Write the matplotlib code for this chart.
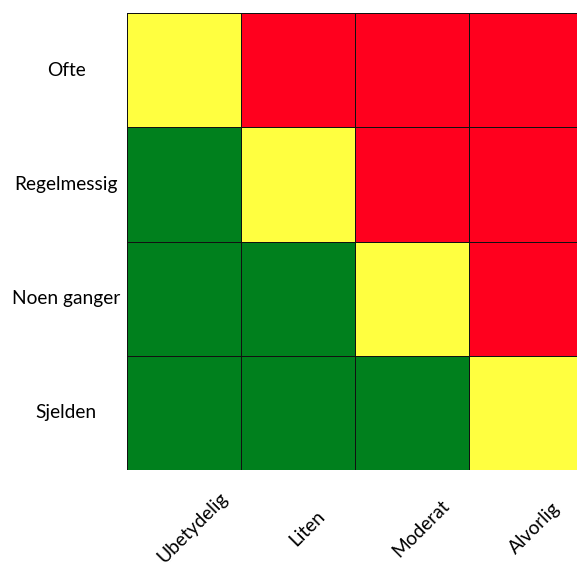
import numpy as np
import matplotlib
matplotlib.use("Agg")
import matplotlib.pyplot as plt
from matplotlib.colors import ListedColormap
import matplotlib.transforms as mtransforms

# risk matrix: rows = frequency (top to bottom), cols = consequence
frequency = ["Ofte", "Regelmessig", "Noen ganger", "Sjelden"]
consequence = ["Ubetydelig", "Liten", "Moderat", "Alvorlig"]
# 0 = green (low), 1 = yellow (medium), 2 = red (high)
risk = [
    [1, 2, 2, 2],
    [0, 1, 2, 2],
    [0, 0, 1, 2],
    [0, 0, 0, 1],
]

plt.rcParams['font.family'] = ['Lato', 'DejaVu Sans']

W, H = 577, 563
fig = plt.figure(figsize=(W / 100, H / 100), dpi=100)
left, top, right, bottom = 127, 13, 583, 470
ax = fig.add_axes([left / W, 1 - bottom / H, (right - left) / W, (bottom - top) / H])

cmap = ListedColormap(["#00801D", "#FFFF40", "#FF001E"])
data = np.array(risk)
ax.pcolormesh(data, cmap=cmap, vmin=-0.5, vmax=2.5,
              edgecolors="#111111", linewidth=0.6)
ax.set_xlim(0, 4)
ax.set_ylim(4, 0)
ax.set_xticks([])
ax.set_yticks([])
for s in ax.spines.values():
    s.set_visible(False)

# row labels, centred in the left margin
ytrans = mtransforms.blended_transform_factory(fig.transFigure, ax.transData)
for i, lab in enumerate(frequency):
    fig.text(66 / W, i + 0.5, lab, transform=ytrans, ha="center", va="center",
             fontsize=13.8)

# column labels, rotated under each column
xtrans = mtransforms.blended_transform_factory(ax.transData, fig.transFigure)
for j, lab in enumerate(consequence):
    fig.text(j + 0.58, 1 - 528 / H, lab, transform=xtrans, ha="center",
             va="center", rotation=45, rotation_mode="anchor", fontsize=13.8)

fig.savefig("out.png", dpi=100)
